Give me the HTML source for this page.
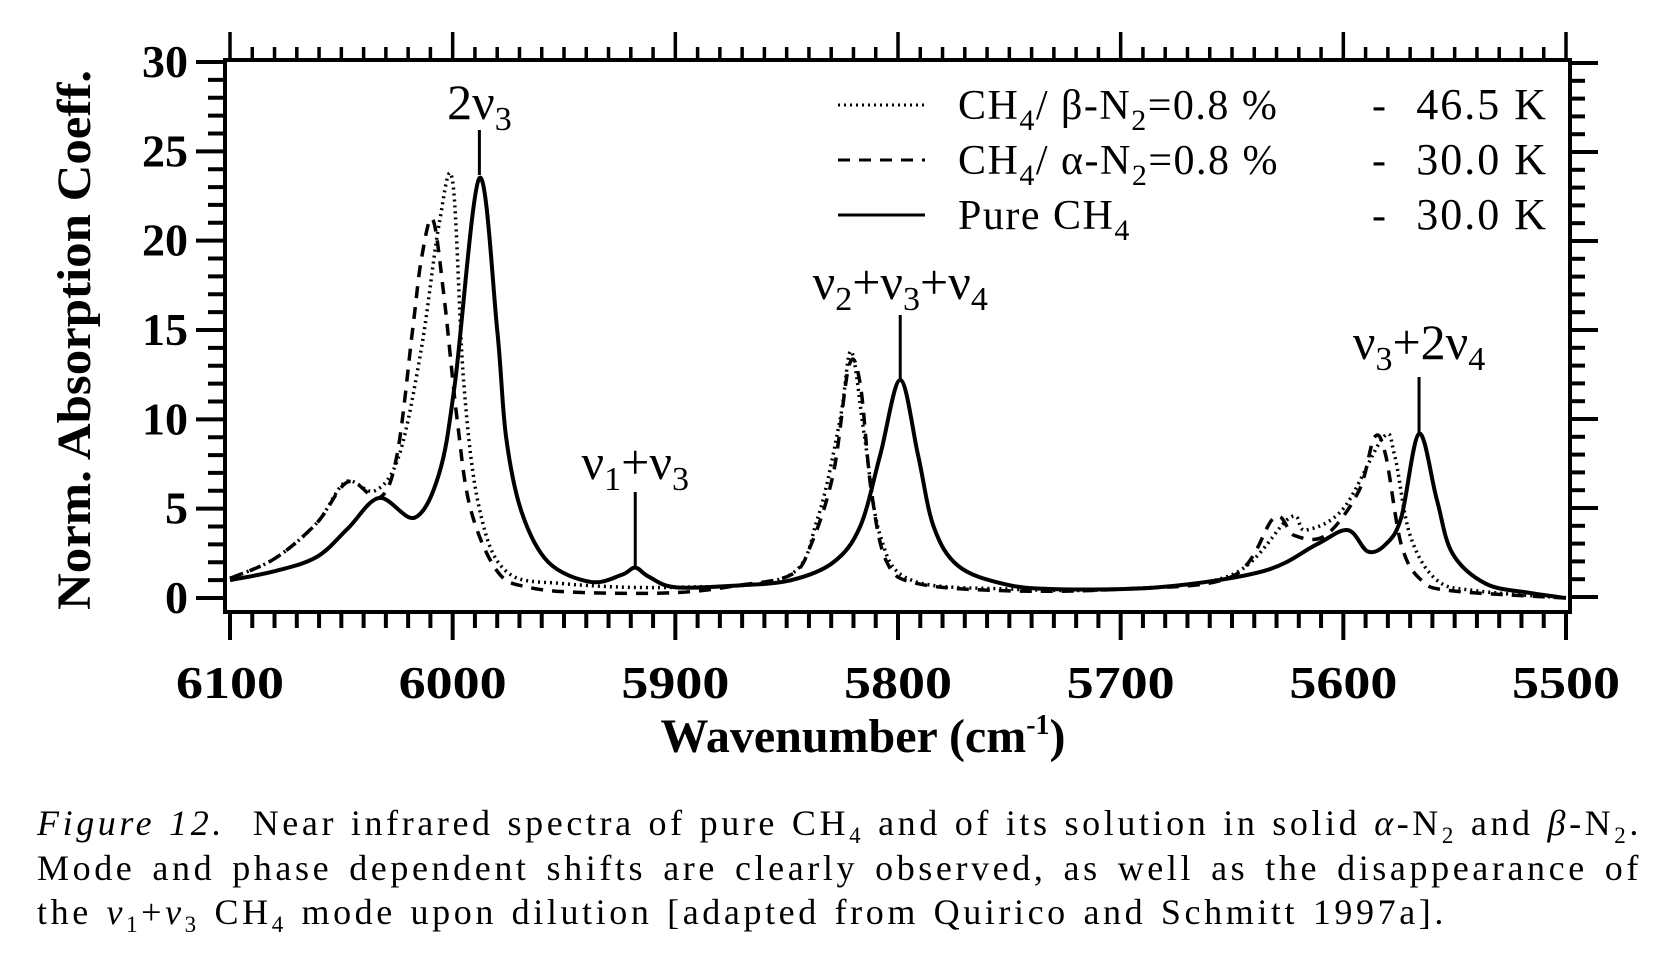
<!DOCTYPE html>
<html><head><meta charset="utf-8"><style>
body{margin:0;background:#fff;width:1653px;height:959px;overflow:hidden}
svg text{fill:#000}
.cap{font-family:"Liberation Serif",serif;font-size:36px;letter-spacing:3.6px;position:absolute;left:37px;width:1605px;line-height:40px;text-align:justify;text-align-last:justify;white-space:nowrap}
.cap sub{font-size:23px;line-height:0}
</style></head><body>
<svg id="chart" width="1653" height="959" style="position:absolute;left:0;top:0"></svg>
<div class="cap" style="top:803px"><i>Figure 12.</i>&nbsp; Near infrared spectra of pure CH<sub>4</sub> and of its solution in solid <i>α</i>-N<sub>2</sub> and <i>β</i>-N<sub>2</sub>.</div>
<div class="cap" style="top:848px">Mode and phase dependent shifts are clearly observed, as well as the disappearance of</div>
<div class="cap" style="top:892px;width:1410px">the <i>ν</i><sub>1</sub>+<i>ν</i><sub>3</sub> CH<sub>4</sub> mode upon dilution [adapted from Quirico and Schmitt 1997a].</div>
<script>
const xTicks=[6100,6000,5900,5800,5700,5600,5500];
const yTicks=[0,5,10,15,20,25,30];
const pureWn=[6100,6080,6061,6047,6033,6017,6006,5999,5988,5980,5976,5969,5957,5938,5924,5918,5912,5900,5872,5848,5829,5817,5808,5799,5791,5784,5773,5753,5730,5683,5636,5612,5598,5589,5581,5574,5566,5558,5551,5536,5517,5500];
const pureVal=[1.0,1.5,2.3,3.9,5.6,4.5,7,12,23.5,15,9,4.8,2.0,0.9,1.3,1.7,1.2,0.6,0.7,1.0,2,4,8,12.2,8,4,1.8,0.8,0.5,0.6,1.5,3,3.8,2.6,3.0,4.5,9.2,5.5,2.5,0.8,0.3,0];
const alphaWn=[6100,6080,6061,6047,6033,6025,6018,6014,6009,6004,5998,5992,5980,5966,5940,5900,5872,5848,5839,5829,5822,5817,5812,5805,5791,5750,5700,5650,5631,5622,5608,5593,5586,5581,5574,5565,5551,5500];
const alphaVal=[1.1,2.2,4.2,6.5,5.6,8,15,19,21.2,17,10,5,1.5,0.6,0.3,0.3,0.7,1.3,3,7,13,12,6,2,0.8,0.4,0.5,1.2,4.5,3.5,3.5,6,9,8,3,1,0.4,0];
const betaWn=[6100,6080,6061,6048,6035,6024,6014,6006,6000,5995,5988,5976,5950,5900,5850,5836,5826,5821,5815,5808,5794,5750,5700,5650,5624,5617,5600,5582,5577,5570,5558,5540,5500];
const betaVal=[1.1,2.2,4.2,6.5,6.0,8,14,21,23.3,12,5,1.5,0.8,0.6,1.2,4.5,10,13.8,9,3.5,1,0.5,0.5,1.3,4.5,3.8,5,9,8,3.5,1,0.4,0];

const NS="http://www.w3.org/2000/svg";
const svg=document.getElementById('chart');
const X0=230,X1=1566,Y0=598,Y30=62;
const xs=w=>X0+(6100-w)/600*(X1-X0);
const ys=v=>Y0-v/30*(Y0-Y30);
function el(t,a,p){const e=document.createElementNS(NS,t);for(const k in a)e.setAttribute(k,a[k]);(p||svg).appendChild(e);return e;}
const fr=el('rect',{x:225,y:60,width:1345,height:552,fill:'none',stroke:'#000','stroke-width':4});


for(let w=6100;w>=5500;w-=10){const x=xs(w);const maj=w%100===0;
 el('line',{x1:x,y1:612,x2:x,y2:maj?640:628,stroke:'#000','stroke-width':4});
 el('line',{x1:x,y1:60,x2:x,y2:maj?32:47,stroke:'#000','stroke-width':3.5});}
for(let v=0;v<=30;v+=1){const y=ys(v);const maj=v%5===0;
 el('line',{x1:225,y1:y,x2:maj?196:208,y2:y,stroke:'#000','stroke-width':4});}
for(let i=0;i<=33;i++){const y=63+i*17.8;if(y>612)break;const maj=i%5===0;
 el('line',{x1:1570,y1:y,x2:maj?1598:1585,y2:y,stroke:'#000','stroke-width':4});}
xTicks.forEach(w=>{const t=el('text',{x:xs(w),y:698,'text-anchor':'middle','font-family':'Liberation Serif','font-weight':'bold','font-size':46,textLength:108,lengthAdjust:'spacingAndGlyphs'});t.textContent=w;
 
 });
yTicks.forEach(v=>{const t=el('text',{x:188,y:ys(v)+15,'text-anchor':'end','font-family':'Liberation Serif','font-weight':'bold','font-size':46});t.textContent=v;
 
 });
const xt=el('text',{x:863,y:752,'text-anchor':'middle','font-family':'Liberation Serif','font-weight':'bold','font-size':48});
xt.innerHTML='Wavenumber (cm<tspan dy="-18" font-size="28">-1</tspan><tspan dy="18">)</tspan>';


const yt=el('text',{x:0,y:0,'text-anchor':'middle','font-family':'Liberation Serif','font-weight':'bold','font-size':48,textLength:540,lengthAdjust:'spacingAndGlyphs',transform:'translate(90,340) rotate(-90)'});
yt.textContent='Norm. Absorption Coeff.';


function path(wn,val){const p=wn.map((w,i)=>[xs(w),ys(val[i])]);let d='M'+p[0][0]+','+p[0][1];
 for(let i=0;i<p.length-1;i++){const a=p[Math.max(0,i-1)],b=p[i],c=p[i+1],e=p[Math.min(p.length-1,i+2)];
  d+=` C${b[0]+(c[0]-a[0])/6},${b[1]+(c[1]-a[1])/6} ${c[0]-(e[0]-b[0])/6},${c[1]-(e[1]-b[1])/6} ${c[0]},${c[1]}`;}return d;}
const sb=el('path',{d:path(betaWn,betaVal),fill:'none',stroke:'#000','stroke-width':3.5,'stroke-dasharray':'2 4'});


const sa=el('path',{d:path(alphaWn,alphaVal),fill:'none',stroke:'#000','stroke-width':3.5,'stroke-dasharray':'12 9'});


const sp=el('path',{d:path(pureWn,pureVal),fill:'none',stroke:'#000','stroke-width':4});


const S='font-size="34"';
const ann=[[5988,`2ν<tspan dy="11" ${S}>3</tspan>`,105,130,175],[5918,`ν<tspan dy="11" ${S}>1</tspan><tspan dy="-11">+ν</tspan><tspan dy="11" ${S}>3</tspan>`,465,492,568],[5799,`ν<tspan dy="11" ${S}>2</tspan><tspan dy="-11">+ν</tspan><tspan dy="11" ${S}>3</tspan><tspan dy="-11">+ν</tspan><tspan dy="11" ${S}>4</tspan>`,285,315,380],[5566,`ν<tspan dy="11" ${S}>3</tspan><tspan dy="-11">+2ν</tspan><tspan dy="11" ${S}>4</tspan>`,345,377,432]];
ann.forEach(a=>{const x=xs(a[0]);const t=el('text',{x:x,y:a[2]+14,'text-anchor':'middle','font-family':'Liberation Serif','font-size':50});t.innerHTML=a[1];
 
 
 el('line',{x1:x,y1:a[3],x2:x,y2:a[4],stroke:'#000','stroke-width':3});});
const L='font-size="30"';
const leg=[['2 4',`CH<tspan dy="11" ${L}>4</tspan><tspan dy="-11">/ β-N</tspan><tspan dy="11" ${L}>2</tspan><tspan dy="-11">=0.8 %</tspan>`,'46.5 K',105],
['12 9',`CH<tspan dy="11" ${L}>4</tspan><tspan dy="-11">/ α-N</tspan><tspan dy="11" ${L}>2</tspan><tspan dy="-11">=0.8 %</tspan>`,'30.0 K',160],
['none',`Pure CH<tspan dy="11" ${L}>4</tspan>`,'30.0 K',215]];
leg.forEach(l=>{const g=el('g',{});
 
 el('line',{x1:838,y1:l[3],x2:925,y2:l[3],stroke:'#000','stroke-width':3,'stroke-dasharray':l[0]},g);
 const t=el('text',{x:958,y:l[3]+14,'font-family':'Liberation Serif','font-size':42,'letter-spacing':1.5},g);t.innerHTML=l[1];
 const d=el('text',{x:1372,y:l[3]+14,'font-family':'Liberation Serif','font-size':42},g);d.textContent='-';
 const k=el('text',{x:1548,y:l[3]+14,'text-anchor':'end','font-family':'Liberation Serif','font-size':44,'letter-spacing':2},g);k.textContent=l[2];});
</script>
</body></html>
